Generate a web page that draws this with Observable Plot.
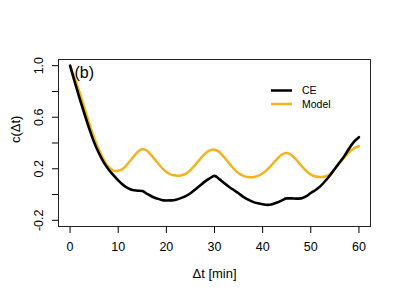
<!DOCTYPE html>
<html>
<head>
<meta charset="utf-8">
<script src="https://cdn.jsdelivr.net/npm/d3@7"></script>
<script src="https://cdn.jsdelivr.net/npm/@observablehq/plot@0.6"></script>
<style>
  html, body { margin: 0; padding: 0; background: #fff; }
  #chart { position: relative; width: 400px; height: 300px; }
</style>
</head>
<body>
<div id="chart"></div>
<script>
// lag times (minutes)
const lags = d3.range(0, 61);
const ceValues = [
  1.0, 0.87, 0.745, 0.625, 0.51, 0.405, 0.32, 0.25, 0.195, 0.15,
  0.11, 0.075, 0.05, 0.035, 0.03, 0.027, 0.005, -0.015, -0.03, -0.042,
  -0.046, -0.045, -0.04, -0.028, -0.012, 0.01, 0.04, 0.07, 0.1, 0.125,
  0.145, 0.12, 0.09, 0.06, 0.035, 0.01, -0.018, -0.04, -0.057, -0.068,
  -0.076, -0.08, -0.075, -0.062, -0.045, -0.03, -0.03, -0.032, -0.03, -0.015,
  0.012, 0.035, 0.065, 0.105, 0.15, 0.2, 0.25, 0.3, 0.36, 0.41,
  0.445
];
// Model curve
const modelValues = [
  1.0, 0.9, 0.79, 0.67, 0.55, 0.44, 0.35, 0.27, 0.215, 0.186,
  0.185, 0.2, 0.24, 0.285, 0.33, 0.352, 0.34, 0.3, 0.255, 0.21,
  0.175, 0.155, 0.147, 0.148, 0.16, 0.19, 0.23, 0.275, 0.315, 0.342,
  0.348, 0.33, 0.29, 0.245, 0.2, 0.165, 0.145, 0.136, 0.135, 0.145,
  0.165, 0.195, 0.235, 0.275, 0.31, 0.322, 0.305, 0.27, 0.225, 0.185,
  0.155, 0.14, 0.136, 0.14, 0.16, 0.2, 0.245, 0.29, 0.33, 0.36,
  0.375
];
const seriesNames = ["CE", "Model"];
const seriesColors = ["#000000", "#F5B21C"];
const xTicks = [0, 10, 20, 30, 40, 50, 60];
const yTicks = [-0.2, 0, 0.2, 0.4, 0.6, 0.8, 1.0];
const yLabelTicks = [-0.2, 0.2, 0.6, 1.0];
const panelLabel = "(b)";
const xTitle = "Δt [min]";
const yTitle = "c(Δt)";

const ceData = lags.map((t, i) => ({t, v: ceValues[i]}));
const modelData = lags.map((t, i) => ({t, v: modelValues[i]}));

const font = "Liberation Sans, Arial, Helvetica, sans-serif";

const plot = Plot.plot({
  width: 400,
  height: 300,
  marginLeft: 58,
  marginRight: 30,
  marginTop: 59,
  marginBottom: 74,
  style: {fontFamily: font, background: "#fff", color: "#000"},
  x: {domain: [-2.4, 62.4]},
  y: {domain: [-0.248, 1.048]},
  marks: [
    Plot.frame({stroke: "#222", strokeWidth: 1}),
    Plot.axisX({ticks: xTicks, tickSize: 7, tickPadding: 9, fontSize: 12.5, label: null, stroke: "#000"}),
    Plot.axisY({ticks: yTicks, tickSize: 6, tickFormat: () => "", label: null, stroke: "#000"}),
    Plot.text(yLabelTicks, {y: d => d, text: d => d.toFixed(1), frameAnchor: "left", dx: -20, rotate: -90, textAnchor: "middle", lineAnchor: "middle", fontSize: 12.5}),
    Plot.text([xTitle], {frameAnchor: "bottom", dy: 47, lineAnchor: "middle", fontSize: 13}),
    Plot.text([yTitle], {frameAnchor: "left", dx: -43, rotate: -90, lineAnchor: "middle", fontSize: 13}),
    Plot.text([panelLabel], {frameAnchor: "top-left", dx: 16, dy: 13, textAnchor: "start", lineAnchor: "middle", fontSize: 16}),
    Plot.line(modelData, {x: "t", y: "v", stroke: seriesColors[1], strokeWidth: 2.5, curve: "natural"}),
    Plot.line(ceData, {x: "t", y: "v", stroke: seriesColors[0], strokeWidth: 2.6, curve: "monotone-x"})
  ]
});

// legend
const svg = d3.select(plot);
const lg = svg.append("g").attr("font-family", font).attr("font-size", 10.5).attr("text-anchor", "start");
seriesNames.forEach((name, i) => {
  const y = 90.5 + i * 13.5;
  lg.append("line").attr("x1", 271).attr("x2", 292).attr("y1", y).attr("y2", y)
    .attr("stroke", seriesColors[i]).attr("stroke-width", 2.5);
  lg.append("text").attr("x", 302).attr("y", y).attr("dy", "0.35em").attr("text-anchor", "start").text(name);
});

document.getElementById("chart").appendChild(plot);
</script>
</body>
</html>
